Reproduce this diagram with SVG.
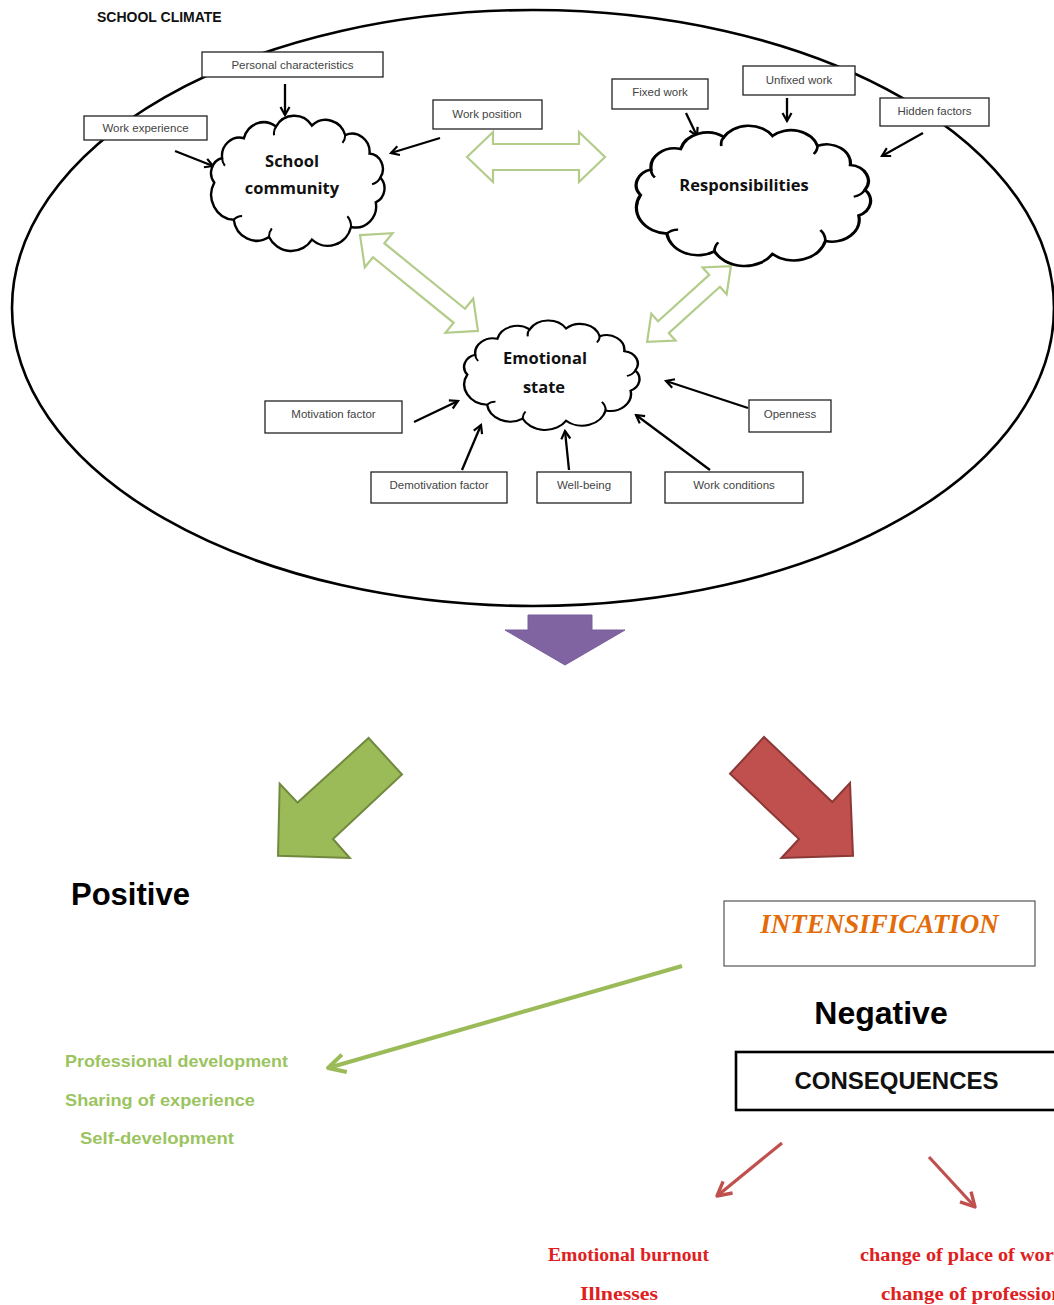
<svg xmlns="http://www.w3.org/2000/svg" width="1054" height="1305" viewBox="0 0 1054 1305">
<style>
.box{fill:#fff;stroke:#222;stroke-width:1.3}
.bt{font-family:"Liberation Sans",Arial,sans-serif;font-size:11.5px;fill:#444;text-anchor:middle}
.cloud{fill:#fff;stroke:#000;stroke-width:2.6;vector-effect:non-scaling-stroke}
.cin{fill:none;stroke:#000;stroke-width:2.2;vector-effect:non-scaling-stroke}
.ct{font-family:"Open Sans","Liberation Sans",sans-serif;font-weight:bold;font-size:16.5px;fill:#111;text-anchor:middle}
.blk{stroke:#000;stroke-width:2.3;fill:none;marker-end:url(#ah)}
.dbl{fill:#fff;stroke:#b3cc8a;stroke-width:2.2;stroke-linejoin:miter}
.gt{font-family:"Liberation Sans",Arial,sans-serif;font-weight:bold;font-size:17px;fill:#9bc45f}
.rt{font-family:"Liberation Serif","Times New Roman",serif;font-weight:bold;font-size:18.5px;fill:#e0201e}
</style>
<defs>
<marker id="ah" viewBox="0 0 12 12" refX="10" refY="6" markerWidth="12" markerHeight="12" markerUnits="userSpaceOnUse" orient="auto">
<path d="M2,1.5 L10,6 L2,10.5" fill="none" stroke="#000" stroke-width="2.2"/>
</marker>
<marker id="ahg" viewBox="0 0 24 24" refX="21" refY="12" markerWidth="24" markerHeight="24" markerUnits="userSpaceOnUse" orient="auto">
<path d="M4,3 L21,12 L4,21" fill="none" stroke="#9bbb59" stroke-width="4" stroke-linejoin="round"/>
</marker>
<marker id="ahr" viewBox="0 0 20 20" refX="17" refY="10" markerWidth="20" markerHeight="20" markerUnits="userSpaceOnUse" orient="auto">
<path d="M3,2.5 L17,10 L3,17.5" fill="none" stroke="#c0504d" stroke-width="3.4" stroke-linejoin="round"/>
</marker>
<path id="cl" d="M10 70 A16 16 0 0 1 18.5 44.6 A19 19 0 0 1 42.1 24 A22 22 0 0 1 76.7 12 A23 23 0 0 1 115.6 10.9 A22 22 0 0 1 151.6 20.9 A19 19 0 0 1 177.9 40 A16 16 0 0 1 189.6 64.8 A16 16 0 0 1 184.6 90.5 A22 22 0 0 1 157.9 116 A26 26 0 0 1 115.6 129.1 A27 27 0 0 1 69.2 126.4 A25 25 0 0 1 31.1 108.6 A26 26 0 0 1 10 70 Z"/>
<path id="clin" d="M18.5 44.6 a12 12 0 0 0 3 8 M76.7 12 a12 12 0 0 0 -2 9 M151.6 20.9 a12 12 0 0 1 -3 8 M189.6 64.8 a14 14 0 0 1 -9 7 M157.9 116 a16 16 0 0 0 -4 -11 M69.2 126.4 a14 14 0 0 1 3 -9 M31.1 108.6 a12 12 0 0 1 9 -4"/>
</defs>
<rect width="1054" height="1305" fill="#fff"/>

<g id="school-climate">
<ellipse cx="533" cy="308" rx="521" ry="298" fill="none" stroke="#000" stroke-width="2.6"/>
<text x="97" y="22" font-family="Liberation Sans,Arial,sans-serif" font-weight="bold" font-size="14" fill="#111">SCHOOL CLIMATE</text>
</g>

<g id="connectors">
<line class="blk" x1="285" y1="84" x2="285" y2="115"/>
<line class="blk" x1="175" y1="151" x2="213" y2="166"/>
<line class="blk" x1="440" y1="138" x2="391" y2="153"/>
<line class="blk" x1="686" y1="113" x2="697" y2="136"/>
<line class="blk" x1="787" y1="98" x2="787" y2="121"/>
<line class="blk" x1="923" y1="133" x2="882" y2="156"/>
<line class="blk" x1="414" y1="422" x2="458" y2="401"/>
<line class="blk" x1="462" y1="470" x2="481" y2="425"/>
<line class="blk" x1="569" y1="470" x2="565" y2="431"/>
<line class="blk" x1="710" y1="470" x2="636" y2="415"/>
<line class="blk" x1="748" y1="408" x2="666" y2="381"/>
<polygon class="dbl" transform="translate(536,157)" points="-69,0 -43,-25 -43,-13 43,-13 43,-25 69,0 43,25 43,13 -43,13 -43,25"/>
<polygon class="dbl" transform="translate(419,283) rotate(39.1)" points="-76,0 -52,-22 -52,-9 52,-9 52,-22 76,0 52,22 52,9 -52,9 -52,22"/>
<polygon class="dbl" transform="translate(689,304) rotate(-42.1)" points="-56.5,0 -34.5,-18 -34.5,-8 34.5,-8 34.5,-18 56.5,0 34.5,18 34.5,8 -34.5,8 -34.5,18"/>
<polygon points="528,615 592,615 592,630 625,630 565,665 505,630 528,630" fill="#8064a2" stroke="#7a5e9c" stroke-width="1"/>
<polygon points="368.6,738 402,774.5 333,839 349.8,858 278,855.7 279.7,783.7 297.6,802.6" fill="#9bbb59" stroke="#71893f" stroke-width="2"/>
<polygon points="764,737 730,773.8 799,839 781.4,858 853,855.7 850,783 832.3,802" fill="#c0504d" stroke="#8c3836" stroke-width="2"/>
<line x1="682" y1="966" x2="328" y2="1068" stroke="#9bbb59" stroke-width="4" marker-end="url(#ahg)"/>
<line x1="782" y1="1143" x2="717" y2="1196" stroke="#c0504d" stroke-width="3.2" marker-end="url(#ahr)"/>
<line x1="929" y1="1157" x2="975" y2="1207" stroke="#c0504d" stroke-width="3.2" marker-end="url(#ahr)"/>
</g>

<g id="school-community">
<g transform="translate(205,115) scale(0.925,0.965)">
<use href="#cl" class="cloud"/>
<use href="#clin" class="cin"/>
</g>
<text class="ct" x="292" y="167">School</text>
<text class="ct" x="292" y="194">community</text>
</g>

<g id="responsibilities">
<g transform="translate(628,125) scale(1.25,1.0)">
<use href="#cl" class="cloud"/>
<use href="#clin" class="cin"/>
</g>
<text class="ct" x="744" y="191">Responsibilities</text>
</g>

<g id="emotional-state">
<g transform="translate(458,320) scale(0.935,0.78)">
<use href="#cl" class="cloud"/>
<use href="#clin" class="cin"/>
</g>
<text class="ct" x="545" y="364">Emotional</text>
<text class="ct" x="544" y="393">state</text>
</g>

<g id="personal-characteristics"><rect class="box" x="202" y="52" width="181" height="25"/><text class="bt" x="292.5" y="69">Personal characteristics</text></g>
<g id="work-experience"><rect class="box" x="84" y="116" width="123" height="24"/><text class="bt" x="145.5" y="132">Work experience</text></g>
<g id="work-position"><rect class="box" x="433" y="100" width="109" height="29"/><text class="bt" x="487" y="118">Work position</text></g>
<g id="fixed-work"><rect class="box" x="612" y="79" width="96" height="30"/><text class="bt" x="660" y="96">Fixed work</text></g>
<g id="unfixed-work"><rect class="box" x="743" y="66" width="112" height="29"/><text class="bt" x="799" y="84">Unfixed work</text></g>
<g id="hidden-factors"><rect class="box" x="880" y="98" width="109" height="28"/><text class="bt" x="934.5" y="115">Hidden factors</text></g>
<g id="motivation-factor"><rect class="box" x="265" y="401" width="137" height="32"/><text class="bt" x="333.5" y="418">Motivation factor</text></g>
<g id="openness"><rect class="box" x="749" y="400" width="82" height="32"/><text class="bt" x="790" y="418">Openness</text></g>
<g id="demotivation-factor"><rect class="box" x="371" y="472" width="136" height="31"/><text class="bt" x="439" y="489">Demotivation factor</text></g>
<g id="well-being"><rect class="box" x="537" y="472" width="94" height="31"/><text class="bt" x="584" y="489">Well-being</text></g>
<g id="work-conditions"><rect class="box" x="665" y="472" width="138" height="31"/><text class="bt" x="734" y="489">Work conditions</text></g>

<g id="positive">
<text x="71" y="905" font-family="Liberation Sans,Arial,sans-serif" font-weight="bold" font-size="31" fill="#000">Positive</text>
</g>
<g id="positive-list">
<text class="gt" x="65" y="1067" textLength="223" lengthAdjust="spacingAndGlyphs">Professional development</text>
<text class="gt" x="65" y="1106" textLength="190" lengthAdjust="spacingAndGlyphs">Sharing of experience</text>
<text class="gt" x="80" y="1144" textLength="154" lengthAdjust="spacingAndGlyphs">Self-development</text>
</g>

<g id="intensification">
<rect x="724" y="901" width="311" height="65" fill="#fff" stroke="#555" stroke-width="1.2"/>
<text x="879.5" y="933" text-anchor="middle" font-family="Liberation Serif,Times New Roman,serif" font-weight="bold" font-style="italic" font-size="27" fill="#e36c09">INTENSIFICATION</text>
</g>
<g id="negative">
<text x="881" y="1024" text-anchor="middle" font-family="Liberation Sans,Arial,sans-serif" font-weight="bold" font-size="32" fill="#000">Negative</text>
</g>
<g id="consequences">
<rect x="736" y="1052" width="330" height="58" fill="#fff" stroke="#000" stroke-width="2.6"/>
<text x="896.5" y="1089" text-anchor="middle" font-family="Liberation Sans,Arial,sans-serif" font-weight="bold" font-size="24" fill="#111">CONSEQUENCES</text>
</g>
<g id="negative-list">
<text class="rt" x="548" y="1261" textLength="161" lengthAdjust="spacingAndGlyphs">Emotional burnout</text>
<text class="rt" x="580" y="1300" textLength="78" lengthAdjust="spacingAndGlyphs">Illnesses</text>
<text class="rt" x="860" y="1261" textLength="205" lengthAdjust="spacingAndGlyphs">change of place of work</text>
<text class="rt" x="881" y="1300" textLength="182" lengthAdjust="spacingAndGlyphs">change of profession</text>
</g>
</svg>
